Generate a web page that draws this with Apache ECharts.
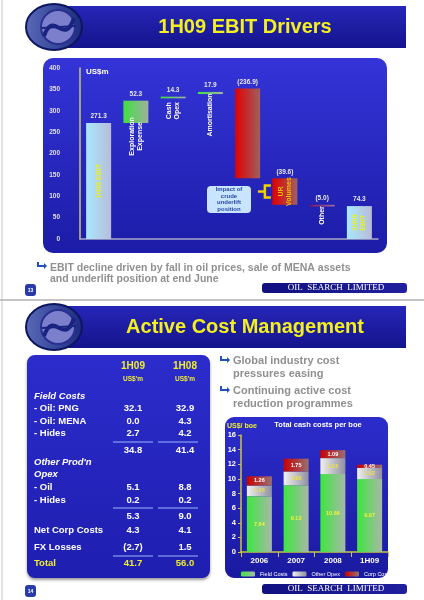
<!DOCTYPE html>
<html><head><meta charset="utf-8">
<script src="https://cdn.jsdelivr.net/npm/echarts@6/dist/echarts.min.js"></script>
<style>html,body{margin:0;padding:0;background:#fff}#c{width:424px;height:600px}</style>
</head><body><div id="c"></div>
<script>
// ---- Slide 1 data: EBIT waterfall ----
const ebitCats = ['1H08 EBIT','Exploration Expense','Cash Opex','Amortisation','Oil Price','UR Volumes','Other','1H09 EBIT'];
const ebitBase = [0, 271.3, 329, 339, 142, 80, 76, 0];
const ebitHeight = [271.3, 52.3, 4, 5, 210, 62, 4, 77];
const ebitLabels = ['271.3','52.3','14.3','17.9','(236.9)','(39.6)','(5.0)','74.3'];
// ---- Slide 2 data: cash costs per boe ----
const boeCats = ['2006','2007','2008','1H09'];
const fieldCosts = [7.64, 9.13, 10.66, 9.97];
const otherOpex = [1.45, 1.88, 2.18, 1.52];
const corpCosts = [1.26, 1.75, 1.09, 0.45];
// ---- Slide 2 table ----
const tableRows = [
  ['Field Costs','',''],
  ['- Oil: PNG','32.1','32.9'],
  ['- Oil: MENA','0.0','4.3'],
  ['- Hides','2.7','4.2'],
  ['','34.8','41.4'],
  ['Other Prod\'n\nOpex','',''],
  ['- Oil','5.1','8.8'],
  ['- Hides','0.2','0.2'],
  ['','5.3','9.0'],
  ['Net Corp Costs','4.3','4.1'],
  ['FX Losses','(2.7)','1.5'],
  ['Total','41.7','56.0']
];

const chart = echarts.init(document.getElementById('c'));
const F = 'Liberation Sans, Arial, sans-serif';
const G = [];
function txt(x,y,text,o){o=o||{};G.push({type:'text',x:x,y:y,rotation:o.rot||0,z:o.z||10,style:{text:text,fill:o.c||'#fff',font:(o.it?'italic ':'')+(o.w||'bold')+' '+(o.s||10)+'px '+(o.f||F),textAlign:o.a||'left',textVerticalAlign:o.v||'middle',lineHeight:o.lh,letterSpacing:o.ls}});}
function rect(x,y,w,h,fill,r,o){o=o||{};G.push({type:'rect',z:o.z||1,shape:{x:x,y:y,width:w,height:h,r:r||0},style:{fill:fill,stroke:o.stroke,lineWidth:o.lw||1,shadowBlur:o.sb||0,shadowColor:'rgba(0,0,0,0.4)',shadowOffsetY:o.sb?2:0}});}
const lg=(a,b,h)=>new echarts.graphic.LinearGradient(0,0,h?1:0,h?0:1,[{offset:0,color:a},{offset:1,color:b}]);

function header(y,title,ls){
  rect(48,y,358,42,lg('#2626b8','#14148c'),0,{sb:3});
  G.push({type:'ellipse',z:3,shape:{cx:54,cy:y+21,rx:28,ry:23},style:{fill:lg('#5a6ab8','#1a2a80',true),stroke:'#0c1660',lineWidth:2}});
  G.push({type:'circle',z:4,shape:{cx:58,cy:y+21,r:17},style:{fill:'#7c80cc',stroke:'#2a3090',lineWidth:2}});
  G.push({type:'bezierCurve',z:5,shape:{x1:44,y1:y+30,x2:74,y2:y+12,cpx1:54,cpy1:y+2,cpx2:64,cpy2:y+42},style:{stroke:'#1a2480',lineWidth:4,fill:null}});
  G.push({type:'line',z:5,shape:{x1:42,y1:y+22,x2:76,y2:y+20},style:{stroke:'#1a2480',lineWidth:2}});
  txt(245,y+21,title,{c:'#f4f020',s:20,a:'center',ls:ls});
}
function footer(y,num){
  rect(262,y,145,10,lg('#101080','#2020a0',true),3);
  txt(336,y+5,'OIL  SEARCH  LIMITED',{c:'#fff',s:9,w:'normal',f:'Liberation Serif, serif',a:'center',ls:2.3});
  rect(25,y+1,11,12,'#2a3aa8',3);
  txt(30.5,y+8,num,{c:'#fff',s:5,a:'center'});
}
function arrow(x,y){G.push({type:'polyline',z:10,shape:{points:[[x,y-3],[x,y+1],[x+8,y+1]]},style:{stroke:'#2050c0',lineWidth:2,fill:null}});G.push({type:'polygon',z:10,shape:{points:[[x+9,y+1],[x+6,y-2],[x+6,y+4]]},style:{fill:'#2050c0'}});}

G.push({type:'line',z:0,shape:{x1:2,y1:0,x2:2,y2:600},style:{stroke:'#d8d8d8',lineWidth:1.5}});
G.push({type:'line',z:0,shape:{x1:0,y1:300,x2:424,y2:300},style:{stroke:'#c4c4c4',lineWidth:2}});
header(6,'1H09 EBIT Drivers',3);
header(306,'Active Cost Management',1.8);
rect(43,58,344,195,lg('#3434d8','#1c1ca8'),10,{z:0});
arrow(38,265);
txt(50,268,'EBIT decline driven by fall in oil prices, sale of MENA assets',{c:'#909090',s:10.5,ls:0.6});
txt(50,279.5,'and underlift position at end June',{c:'#909090',s:10.5,ls:0.6});
footer(283,'13');
footer(584,'14');
rect(27,355,183,223,lg('#2c2ccc','#1e1eb0'),8,{z:0,sb:3});
txt(133,366,'1H09',{c:'#f0ec30',s:10,a:'center',ls:1});
txt(185,366,'1H08',{c:'#f0ec30',s:10,a:'center',ls:1});
txt(133,379,"US$'m",{c:'#f0ec30',s:6.5,a:'center'});
txt(185,379,"US$'m",{c:'#f0ec30',s:6.5,a:'center'});
const rowY=[396,408,421,433,450,468,487,500,516,530,547,563];
tableRows.forEach((r,i)=>{
  const y=rowY[i], head=(i===0||i===5), tot=(i===11);
  const col=tot?'#f0ec30':'#fff';
  if(r[0]) txt(34,y,r[0],{c:col,s:9.5,it:head,lh:12,ls:0.8});
  if(r[1]) txt(133,y,r[1],{c:col,s:9.5,a:'center',ls:0.8});
  if(r[2]) txt(185,y,r[2],{c:col,s:9.5,a:'center',ls:0.8});
});
[442,508,556].forEach(y=>{G.push({type:'line',z:5,shape:{x1:113,y1:y,x2:153,y2:y},style:{stroke:'#9ab8ff',lineWidth:1}});G.push({type:'line',z:5,shape:{x1:158,y1:y,x2:198,y2:y},style:{stroke:'#9ab8ff',lineWidth:1}});});
arrow(221,359);arrow(221,389);
txt(233,361,'Global industry cost',{c:'#909090',s:11,ls:1});
txt(233,373.5,'pressures easing',{c:'#909090',s:11,ls:1});
txt(233,391,'Continuing active cost',{c:'#909090',s:11,ls:1});
txt(233,404,'reduction programmes',{c:'#909090',s:11,ls:1});
rect(225,417,163,161,lg('#2c2ccc','#1a1aa0'),9,{z:0});
txt(227,426,'US$/ boe',{c:'#f0ec30',s:7});
txt(318,425,'Total cash costs per boe',{c:'#fff',s:7.5,a:'center',ls:0.5});

const colTop=[lg('#a8e8ff','#b8bcd8',true),lg('#40e040','#a0b0a0',true),lg('#40e040','#a0b0a0',true),lg('#40e040','#a0b0a0',true),lg('#e00000','#a06060',true),lg('#e00000','#a06060',true),lg('#801060','#a070a0',true),lg('#a8e8ff','#b8bcd8',true)];
const gf=lg('#3ee63e','#a8b8a8',true), go=lg('#f0f0f0','#9090a0',true), gc=lg('#c80000','#9a7070',true);
const lbl=(c)=>({show:true,position:'inside',color:c,fontSize:5.5,fontWeight:'bold',fontFamily:F});

const option={
  animation:false,
  grid:[{left:80,right:46,top:68,bottom:361},{left:241,right:36,top:435,bottom:48}],
  xAxis:[
    {gridIndex:0,z:20,type:'category',data:ebitCats,axisLine:{lineStyle:{color:'#a8a8c8',width:1.5}},axisTick:{show:false},axisLabel:{show:false}},
    {gridIndex:1,z:20,type:'category',data:boeCats,axisLine:{lineStyle:{color:'#c8c840',width:1.5}},axisTick:{show:true,lineStyle:{color:'#c8c840'}},axisLabel:{color:'#fff',fontSize:8,fontWeight:'bold',fontFamily:F,margin:5}}
  ],
  yAxis:[
    {gridIndex:0,z:20,type:'value',min:0,max:400,interval:50,axisLine:{show:true,lineStyle:{color:'#c8c870',width:1.5}},axisTick:{show:false},splitLine:{show:false},axisLabel:{color:'#e0e0e0',fontSize:6.5,fontWeight:'bold',fontFamily:F,margin:20},name:'US$m',nameLocation:'end',nameGap:-8,nameTextStyle:{color:'#fff',fontSize:8,fontWeight:'bold',align:'left',padding:[0,0,0,6],fontFamily:F}},
    {gridIndex:1,z:20,type:'value',min:0,max:16,interval:2,axisLine:{show:true,lineStyle:{color:'#c8c840',width:1.5}},axisTick:{show:true,length:3,lineStyle:{color:'#c8c840'}},splitLine:{show:false},axisLabel:{color:'#fff',fontSize:7.5,fontWeight:'bold',fontFamily:F,margin:5}}
  ],
  legend:{z:20,left:236,top:566,width:160,itemWidth:14,itemHeight:5,itemGap:5,textStyle:{color:'#fff',fontSize:5.5,fontFamily:F},data:['Field Costs','Other Opex','Corp Costs/FX']},
  series:[
    {type:'bar',z:20,xAxisIndex:0,yAxisIndex:0,stack:'w',barWidth:25,itemStyle:{color:'transparent'},data:ebitBase,silent:true},
    {type:'bar',z:20,xAxisIndex:0,yAxisIndex:0,stack:'w',barWidth:25,data:ebitHeight.map((v,i)=>({value:v,itemStyle:{color:colTop[i]}})),
      label:{show:true,position:'top',distance:3,color:'#e8e8e8',fontSize:6.5,fontWeight:'bold',fontFamily:F,formatter:p=>ebitLabels[p.dataIndex]}},
    {name:'Field Costs',z:20,type:'bar',xAxisIndex:1,yAxisIndex:1,stack:'b',barWidth:25,itemStyle:{color:gf},label:lbl('#f0f040'),data:fieldCosts},
    {name:'Other Opex',z:20,type:'bar',xAxisIndex:1,yAxisIndex:1,stack:'b',barWidth:25,itemStyle:{color:go},label:lbl('#f0e040'),data:otherOpex},
    {name:'Corp Costs/FX',z:20,type:'bar',xAxisIndex:1,yAxisIndex:1,stack:'b',barWidth:25,itemStyle:{color:gc},label:lbl('#fff'),data:corpCosts}
  ],
  graphic:G
};
chart.setOption(option);
const P=(i,v)=>chart.convertToPixel({xAxisIndex:0,yAxisIndex:0},[i,v]);
const R=Math.PI/2;
let p=P(0,135); txt(p[0],p[1],'1H08 EBIT',{c:'#e8f020',s:7,a:'center',rot:R,z:30});
p=P(1,240); txt(p[0],p[1],'Exploration\nExpense',{c:'#fff',s:7,a:'center',rot:R,lh:8,z:30});
p=P(2,300); txt(p[0],p[1],'Cash\nOpex',{c:'#fff',s:7,a:'center',rot:R,lh:8,z:30});
p=P(3,290); txt(p[0],p[1],'Amortisation',{c:'#fff',s:7,a:'center',rot:R,z:30});
p=P(5,111); txt(p[0],p[1],'UR\nVolumes',{c:'#f0c000',s:7,a:'center',rot:R,lh:8,z:30});
p=P(6,55); txt(p[0],p[1],'Other',{c:'#fff',s:7,a:'center',rot:R,z:30});
p=P(7,38); txt(p[0],p[1],'1H09\nEBIT',{c:'#e8f020',s:7,a:'center',rot:R,lh:8,z:30});
const q=P(5,111);
rect(207,186,44,27,'#c8e4ff',4,{z:30});
txt(229,199.5,'Impact of\ncrude\nunderlift\nposition',{c:'#2a4aa0',s:6,a:'center',lh:6.5,z:31});
G.push({type:'polyline',z:31,shape:{points:[[q[0]-14,q[1]-6],[q[0]-20,q[1]-6],[q[0]-20,q[1]+6],[q[0]-14,q[1]+6]]},style:{stroke:'#f0d000',lineWidth:2.5,fill:null}});
G.push({type:'line',z:31,shape:{x1:q[0]-20,y1:q[1],x2:q[0]-27,y2:q[1]},style:{stroke:'#f0d000',lineWidth:2.5}});
chart.setOption({graphic:G});
</script></body></html>
